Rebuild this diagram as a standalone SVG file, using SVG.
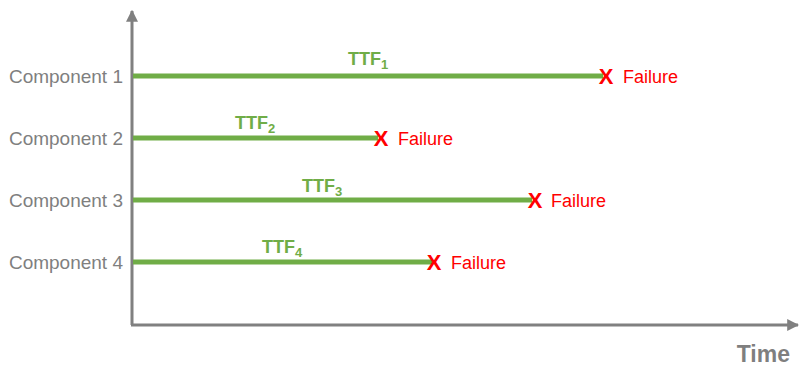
<svg xmlns="http://www.w3.org/2000/svg" width="800" height="366" viewBox="0 0 800 366">
<defs>
<style>
.lbl{font-family:"Liberation Sans",Arial,sans-serif;font-size:19px;fill:#7f7f7f;text-anchor:end}
.ttf{font-family:"Liberation Sans",Arial,sans-serif;font-size:18px;font-weight:bold;fill:#70ad47}
.sub{font-size:13px}
.x{font-family:"Liberation Sans",Arial,sans-serif;font-size:22px;font-weight:bold;fill:#ff0000;text-anchor:middle}
.fail{font-family:"Liberation Sans",Arial,sans-serif;font-size:18px;fill:#ff0000}
.bar{stroke:#70ad47;stroke-width:5}
.axis{stroke:#808080;stroke-width:3;fill:none}
</style>
<marker id="ah" viewBox="0 0 10 10" refX="9" refY="5" markerWidth="4" markerHeight="4" orient="auto" markerUnits="strokeWidth">
<path d="M0,0 L10,5 L0,10 z" fill="#808080"/>
</marker>
</defs>
<rect width="800" height="366" fill="#ffffff"/>
<g id="axes">
<path class="axis" d="M132,325 L132,11" marker-end="url(#ah)"/>
<path class="axis" d="M131,325 L798,325" marker-end="url(#ah)"/>
<text x="790" y="362" style="font-family:'Liberation Sans',Arial,sans-serif;font-size:23px;font-weight:bold;fill:#7f7f7f;text-anchor:end">Time</text>
</g>
<g id="connectors">
<line class="bar" x1="133" y1="76" x2="603" y2="76"/>
<line class="bar" x1="133" y1="138" x2="378" y2="138"/>
<line class="bar" x1="133" y1="200" x2="532" y2="200"/>
<line class="bar" x1="133" y1="262" x2="432" y2="262"/>
</g>
<g id="component1">
<text class="lbl" x="123" y="83">Component 1</text>
<text class="ttf" x="348" y="65">TTF<tspan class="sub" dy="4">1</tspan></text>
<text class="x" x="606" y="84">X</text>
<text class="fail" x="623" y="83">Failure</text>
</g>
<g id="component2">
<text class="lbl" x="123" y="145">Component 2</text>
<text class="ttf" x="235" y="129">TTF<tspan class="sub" dy="4">2</tspan></text>
<text class="x" x="381" y="146">X</text>
<text class="fail" x="398" y="145">Failure</text>
</g>
<g id="component3">
<text class="lbl" x="123" y="207">Component 3</text>
<text class="ttf" x="302" y="192">TTF<tspan class="sub" dy="4">3</tspan></text>
<text class="x" x="535" y="208">X</text>
<text class="fail" x="551" y="207">Failure</text>
</g>
<g id="component4">
<text class="lbl" x="123" y="269">Component 4</text>
<text class="ttf" x="262" y="253">TTF<tspan class="sub" dy="4">4</tspan></text>
<text class="x" x="434" y="270">X</text>
<text class="fail" x="451" y="269">Failure</text>
</g>
</svg>
